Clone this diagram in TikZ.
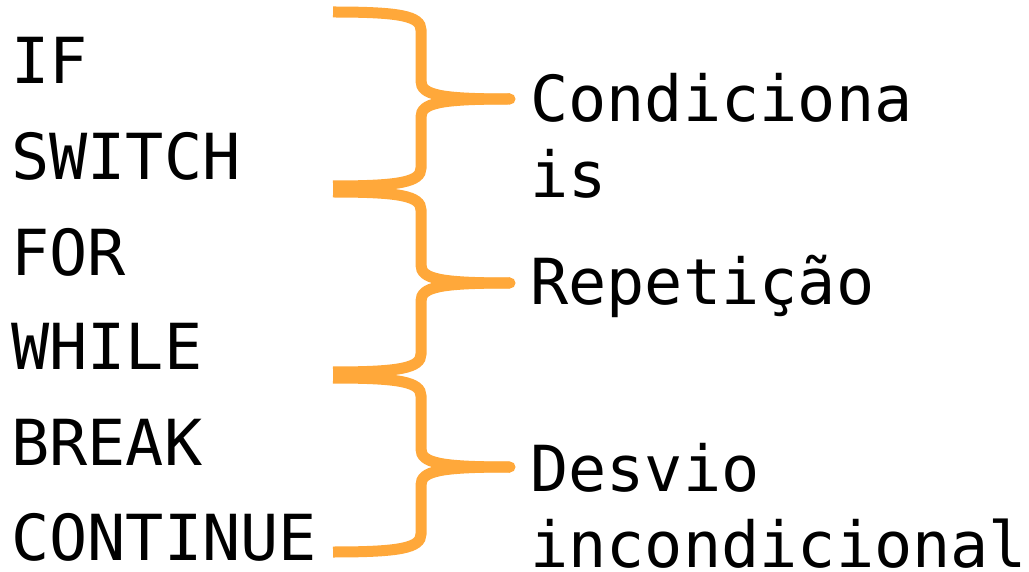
\documentclass[tikz,border=0pt]{standalone}
\usepackage{fontspec}
\newfontfamily\codefont{DejaVu Sans Mono}
\definecolor{braceorange}{HTML}{FFA83A}
\begin{document}
\begin{tikzpicture}[x=1pt,y=-1pt,
  lbl/.style={anchor=base west,inner sep=0pt,align=left,text depth=0pt,
    font=\codefont\fontsize{63.5}{76}\selectfont},
  bracestroke/.style={draw=braceorange,line width=11pt,line cap=butt}]
\useasboundingbox (0,0) rectangle (1029,572);
% left keywords
\node[lbl] (if)     at (11,84)  {IF};
\node[lbl] (switch) at (11,180) {SWITCH};
\node[lbl] (for)    at (11,276) {FOR};
\node[lbl] (while)  at (11,370) {WHILE};
\node[lbl] (break)  at (11,465) {BREAK};
\node[lbl] (cont)   at (11,560) {CONTINUE};
% right labels (base = last line)
\node[lbl] (cond) at (530,198) {Condiciona\\is};
\node[lbl] (rep)  at (530,305) {Repetição};
\node[lbl] (desv) at (530,567) {Desvio\\incondicional};
% braces
\newcommand{\drawbrace}[4]{%
  \coordinate (#4top) at (333,#1);
  \coordinate (#4tip) at (510,#2);
  \coordinate (#4bot) at (333,#3);
  \draw[bracestroke] (#4top) .. controls (400,#1) and (421,#1+4) .. (421,#1+18)
     -- (421,#2-18) .. controls (421,#2-4) and (440,#2) .. (#4tip);
  \draw[bracestroke] (#4bot) .. controls (400,#3) and (421,#3-4) .. (421,#3-18)
     -- (421,#2+18) .. controls (421,#2+4) and (440,#2) .. (#4tip);
  \fill[braceorange] (#4tip) circle (5.5);
}
\drawbrace{12}{99}{186}{ba}
\drawbrace{192}{283}{372}{bb}
\drawbrace{378}{467}{552}{bc}
\end{tikzpicture}
\end{document}
